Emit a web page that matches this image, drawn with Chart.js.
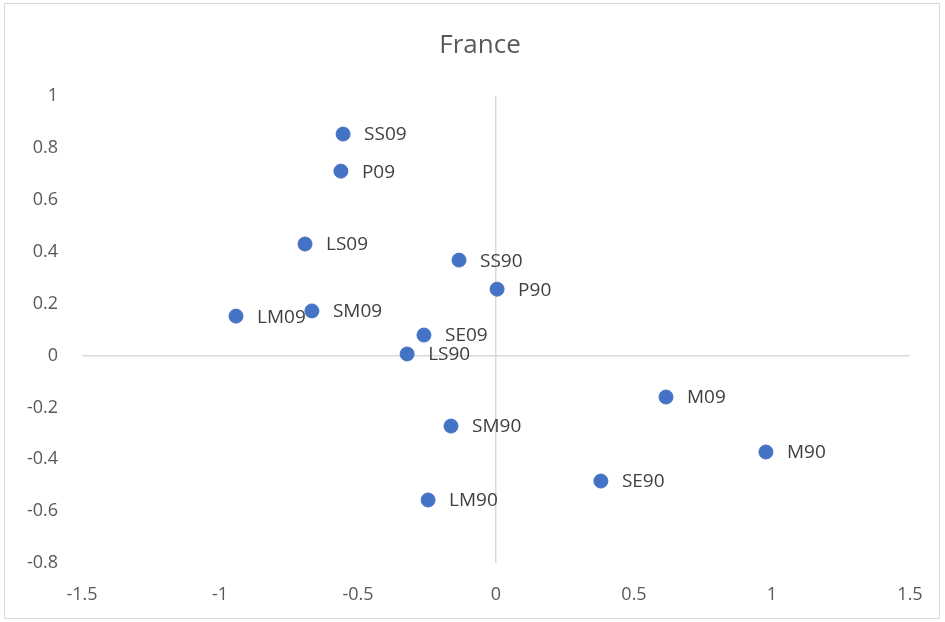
<!DOCTYPE html>
<html>
<head>
<meta charset="utf-8">
<script src="https://cdn.jsdelivr.net/npm/chart.js@4/dist/chart.umd.min.js"></script>
<style>
  html, body { margin: 0; padding: 0; background: #fff; }
  #wrap { position: relative; width: 945px; height: 622px; }
  #frame { position: absolute; left: 4px; top: 3px; width: 934px; height: 614px; border: 1px solid #d9d9d9; pointer-events: none; }
</style>
</head>
<body>
<div id="wrap">
  <canvas id="chart" width="945" height="622"></canvas>
  <div id="frame"></div>
</div>
<script>
// Points
const labels = ['SS09', 'P09', 'LS09', 'SS90', 'P90', 'LM09', 'SM09', 'SE09', 'LS90', 'M09', 'SM90', 'M90', 'SE90', 'LM90'];
const xValues = [-0.554, -0.562, -0.692, -0.134, 0.004, -0.942, -0.667, -0.261, -0.322, 0.616, -0.163, 0.978, 0.380, -0.246];
const yValues = [0.854, 0.711, 0.430, 0.368, 0.256, 0.152, 0.172, 0.079, 0.006, -0.160, -0.272, -0.372, -0.484, -0.557];

const points = xValues.map((x, i) => ({ x: x, y: yValues[i] }));

// Draws the name next to each point
const pointLabels = {
    id: 'pointLabels',
    afterDatasetsDraw(chart) {
        const ctx = chart.ctx;
        const meta = chart.getDatasetMeta(0);
        ctx.save();
        ctx.font = '19px "Open Sans"';
        ctx.fillStyle = '#404040';
        ctx.textBaseline = 'middle';
        ctx.textAlign = 'left';
        meta.data.forEach((el, i) => {
            ctx.fillText(labels[i], el.x + 21, el.y + 1);
        });
        ctx.restore();
    }
};

// Center the title on the whole frame rather than the padded area
const centerTitle = {
    id: 'centerTitle',
    afterLayout(chart) {
        if (chart.titleBlock) {
            chart.titleBlock.left = 50;
            chart.titleBlock.right = 910;
        }
    }
};

const zeroLine = ctx => ctx.tick && ctx.tick.value === 0 ? '#d9d9d9' : 'rgba(0,0,0,0)';
const fmt = v => String(Math.round(v * 10) / 10);

new Chart(document.getElementById('chart'), {
    type: 'scatter',
    data: {
        datasets: [{
            data: points,
            backgroundColor: '#4472c4',
            borderColor: '#4472c4',
            pointRadius: 7,
            pointHoverRadius: 7
        }]
    },
    options: {
        responsive: false,
        animation: false,
        layout: { padding: { left: 0, right: 35, top: 10, bottom: 0 } },
        plugins: {
            legend: { display: false },
            tooltip: { enabled: false },
            title: {
                display: true,
                text: 'France',
                color: '#595959',
                font: { family: '"Open Sans"', size: 26, weight: 'normal' },
                padding: { top: 20, bottom: 35 }
            }
        },
        scales: {
            x: {
                min: -1.5,
                max: 1.5,
                afterFit: s => { s.height = 59; },
                ticks: {
                    stepSize: 0.5,
                    color: '#595959',
                    font: { family: '"Open Sans"', size: 18 },
                    padding: 21,
                    callback: fmt
                },
                grid: { color: zeroLine, lineWidth: 1.5, drawTicks: false },
                border: { display: false }
            },
            y: {
                min: -0.8,
                max: 1,
                afterFit: s => { s.width = 82; },
                ticks: {
                    stepSize: 0.2,
                    color: '#595959',
                    font: { family: '"Open Sans"', size: 18 },
                    padding: 24,
                    callback: fmt
                },
                grid: { color: zeroLine, lineWidth: 1.5, drawTicks: false },
                border: { display: false }
            }
        }
    },
    plugins: [pointLabels, centerTitle]
});
</script>
</body>
</html>
